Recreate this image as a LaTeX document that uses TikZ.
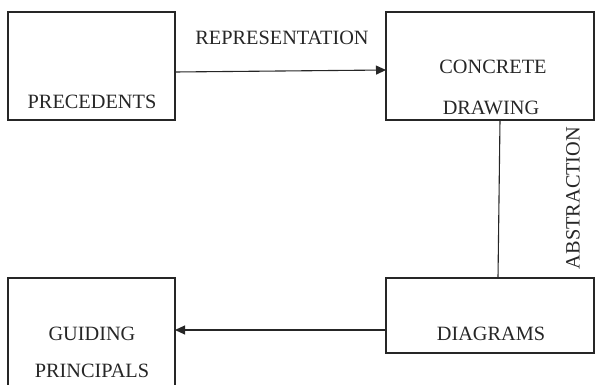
\documentclass[tikz,border=0pt]{standalone}
\usepackage{fontspec}
\setmainfont{Liberation Serif}
\usetikzlibrary{arrows.meta}
\begin{document}
\begin{tikzpicture}[x=1pt,y=-1pt,
  box/.style={draw=black!85,line width=1.1pt,inner sep=0pt,outer sep=0pt},
  lbl/.style={inner sep=0pt,font=\fontsize{20.3}{23}\selectfont,text=black!85},
  conn/.style={draw=black!85,line width=1.1pt},
  arr/.style={conn,-{Triangle[length=10pt,width=9pt]}}]
\useasboundingbox (0,0) rectangle (595,385);
\clip (0,0) rectangle (595,385);
% boxes
\node[box,minimum width=167pt,minimum height=108pt] (prec) at (91.5,66) {};
\node[box,minimum width=208pt,minimum height=108pt] (conc) at (490,66) {};
\node[box,minimum width=208pt,minimum height=75pt] (diag) at (490,315.5) {};
\node[box,minimum width=167pt,minimum height=130pt] (guid) at (91.5,343) {};
% texts
\node[lbl] (tprec) at (92,102) {PRECEDENTS};
\node[lbl] (tconc1) at (493,67) {CONCRETE};
\node[lbl] (tconc2) at (491,108) {DRAWING};
\node[lbl] (tdiag) at (491,334) {DIAGRAMS};
\node[lbl] (tguid1) at (92,334) {GUIDING};
\node[lbl] (tguid2) at (92,371) {PRINCIPALS};
\node[lbl] (trep) at (282,38) {REPRESENTATION};
\node[lbl,rotate=90] (tabs) at (573,198) {ABSTRACTION};
% connectors
\coordinate (a1) at (prec.east |- 0,72);
\coordinate (a2) at (conc.west |- 0,70);
\draw[arr] (a1) -- (a2);
\coordinate (b1) at (500,0 |- conc.south);
\coordinate (b2) at (498,0 |- diag.north);
\draw[conn] (b1) -- (b2);
\coordinate (c1) at (diag.west |- 0,330);
\coordinate (c2) at (guid.east |- 0,330);
\draw[arr] (c1) -- (c2);
\end{tikzpicture}
\end{document}
